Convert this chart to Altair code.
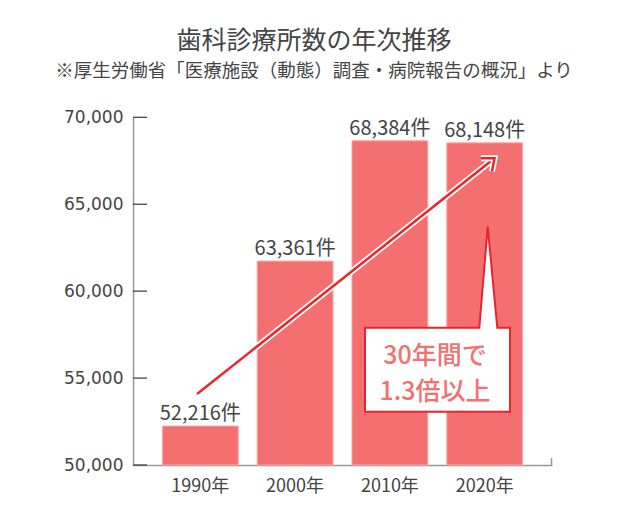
import altair as alt
import pandas as pd

# ---- data ----
years = ["1990年", "2000年", "2010年", "2020年"]
bar_values = [52240, 61730, 68650, 68530]
bar_labels = ["52,216件", "63,361件", "68,384件", "68,148件"]
y_ticks = [50000, 55000, 60000, 65000, 70000]
title_text = "歯科診療所数の年次推移"
subtitle_text = "※厚生労働省「医療施設（動態）調査・病院報告の概況」より"
callout_lines = ["30年間で", "1.3倍以上"]

W, H = 419, 347.7
JP = "Noto Sans CJK JP"
BAR = "#F47070"
RED = "#E9242A"
TXT = "#444444"

df = pd.DataFrame({"year": years, "value": bar_values, "label": bar_labels})
tick_df = pd.DataFrame({"value": y_ticks})
one = pd.DataFrame({"a": [0]})

x = alt.X("year:N", sort=years,
          scale=alt.Scale(paddingInner=0.2, paddingOuter=0.31),
          axis=alt.Axis(title=None, labelAngle=0, labelFont=JP, labelFontSize=18,
                        labelColor=TXT, labelPadding=12, ticks=False, tickSize=0,
                        domainColor="#999999", domainWidth=1.5))
y = alt.Y("value:Q",
          scale=alt.Scale(domain=[50000, 70000], zero=False, nice=False),
          axis=alt.Axis(title=None, values=y_ticks, format=",d", labelFont="DejaVu Sans",
                        labelFontSize=17, labelColor=TXT, labelPadding=10, ticks=False,
                        tickSize=0, grid=False, domainColor="#999999", domainWidth=1.5))

bars = alt.Chart(df).mark_bar(color=BAR, stroke="#F9A8A8", strokeWidth=1).encode(
    x=x, y=y, y2=alt.datum(50000))

labels = alt.Chart(df).mark_text(font=JP, fontSize=20, color=TXT, baseline="alphabetic", dy=-6).encode(
    x=alt.X("year:N", sort=years),
    y=alt.Y("value:Q"),
    text="label:N")

yticks = alt.Chart(tick_df).mark_rule(color=TXT, strokeWidth=1.3).encode(
    y=alt.Y("value:Q"), x=alt.value(0), x2=alt.value(14))

xend = alt.Chart(one).mark_rule(color="#999999", strokeWidth=1.5).encode(
    x=alt.value(W - 0.5), y=alt.value(H - 7), y2=alt.value(H))

arrow_w = alt.Chart(one).mark_rule(color="white", strokeWidth=6).encode(
    x=alt.value(64), y=alt.value(276.7), x2=alt.value(361.5), y2=alt.value(41))
arrow_r = alt.Chart(one).mark_rule(color=RED, strokeWidth=2.5).encode(
    x=alt.value(64), y=alt.value(276.7), x2=alt.value(361.5), y2=alt.value(41))

chev = "M -1 0 L 0 0 L -0.185 0.978"
chev_w = alt.Chart(one).mark_point(shape=chev, size=729, filled=False, color="white",
                                   strokeWidth=6, opacity=1, strokeJoin="miter").encode(
    x=alt.value(361.5), y=alt.value(41))
chev_r = alt.Chart(one).mark_point(shape=chev, size=729, filled=False, color=RED,
                                   strokeWidth=2.5, opacity=1, strokeJoin="miter").encode(
    x=alt.value(361.5), y=alt.value(41))

box_path = ("M -0.7838 0.0919 L 0.4519 0.0919 L 0.5427 -1 L 0.6465 0.0919 "
            "L 0.7838 0.0919 L 0.7838 1 L -0.7838 1 Z")
callout = alt.Chart(one).mark_point(shape=box_path, size=34225, filled=True, fill="white",
                                    stroke=RED, strokeWidth=2, opacity=1, fillOpacity=1,
                                    strokeOpacity=1).encode(
    x=alt.value(304.5), y=alt.value(201.9))

c1 = alt.Chart(one).mark_text(text=callout_lines[0], font=JP, fontSize=25, fontWeight=500,
                              color="#F27070", align="center", baseline="alphabetic").encode(
    x=alt.value(302), y=alt.value(246.7))
c2 = alt.Chart(one).mark_text(text=callout_lines[1], font=JP, fontSize=25, fontWeight=500,
                              color="#F27070", align="center", baseline="alphabetic").encode(
    x=alt.value(302), y=alt.value(282.7))

t1 = alt.Chart(one).mark_text(text=title_text, font=JP, fontSize=25, color=TXT,
                              align="center", baseline="alphabetic").encode(
    x=alt.value(181), y=alt.value(-68))
t2 = alt.Chart(one).mark_text(text=subtitle_text, font=JP, fontSize=18.5, color=TXT,
                              align="center", baseline="alphabetic").encode(
    x=alt.value(181), y=alt.value(-40))

chart = alt.layer(bars, yticks, xend, labels, arrow_w, arrow_r, chev_w, chev_r,
                  callout, c1, c2, t1, t2).properties(
    width=W, height=H,
    autosize=alt.AutoSizeParams(type="none"),
    padding={"left": 125, "top": 109.3, "right": 50, "bottom": 40},
).configure_view(strokeWidth=0)

chart.save("out.html", embed_options={"renderer": "svg", "actions": False})
